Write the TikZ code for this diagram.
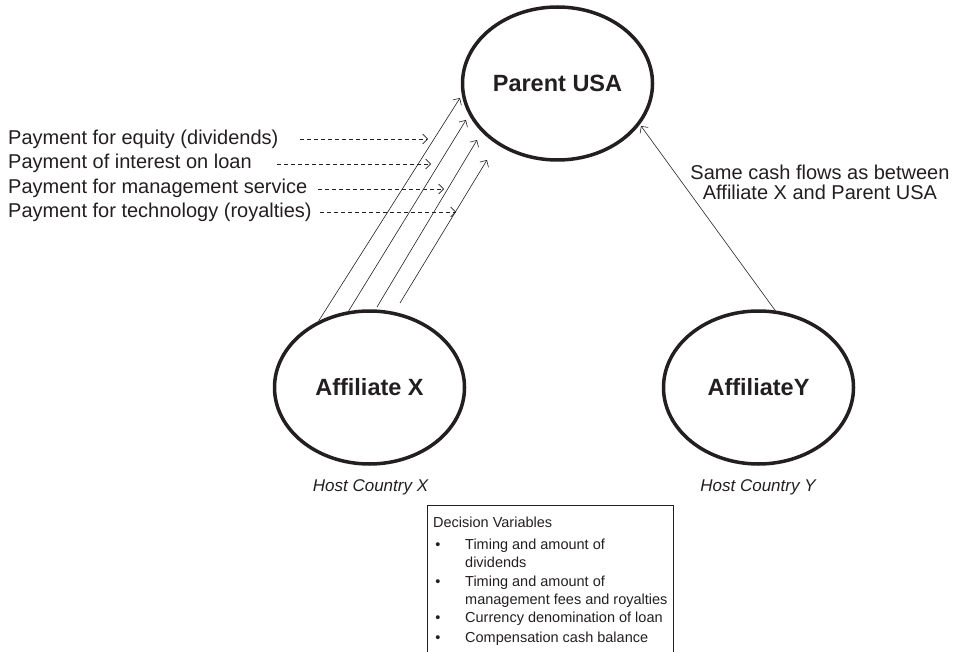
\documentclass[tikz,border=0pt]{standalone}
\usepackage{fontspec}
\setmainfont{Liberation Sans}
\usetikzlibrary{shapes.geometric,arrows.meta}
\definecolor{ink}{RGB}{35,31,32}
\begin{document}
\begin{tikzpicture}[x=1pt,y=-1pt,
  entity/.style={ellipse,draw=ink,line width=3.5pt,minimum width=190pt,
    minimum height=153pt,inner sep=0pt,text=ink,
    font=\fontsize{23.5}{28}\selectfont\bfseries},
  flow/.style={draw=ink,line width=0.6pt,-{Straight Barb[length=5pt,width=10pt]}},
  dashflow/.style={flow,dash pattern=on 4pt off 3pt},
  paytext/.style={anchor=base west,inner sep=0pt,text=ink,font=\fontsize{20}{23}\selectfont},
  notetext/.style={anchor=base,inner sep=0pt,text=ink,font=\fontsize{20}{23}\selectfont},
  hosttext/.style={anchor=base,inner sep=0pt,text=ink,font=\fontsize{17}{20}\selectfont\itshape},
  boxtext/.style={anchor=base west,inner sep=0pt,text=ink,font=\fontsize{14.5}{17}\selectfont},
  bullet/.style={anchor=base,inner sep=0pt,text=ink,font=\fontsize{14.5}{17}\selectfont}
]
\useasboundingbox (0,0) rectangle (955,652);

% the three companies
\node[entity] (P)  at (557.5,83.5)  {Parent USA};
\node[entity] (AX) at (369.5,387.5) {Affiliate X};
\node[entity] (AY) at (758.5,387.5) {AffiliateY};

\node[hosttext] (hx) at (370.5,491) {Host Country X};
\node[hosttext] (hy) at (758,491) {Host Country Y};

% cash flows from Affiliate X to the parent
\coordinate (s1) at (318,322); \coordinate (t1) at (460,98);
\coordinate (s2) at (348,312); \coordinate (t2) at (466,120);
\coordinate (s3) at (377,307); \coordinate (t3) at (477,140);
\coordinate (s4) at (400,303); \coordinate (t4) at (487,160);
\draw[flow] (s1) -- (t1);
\draw[flow] (s2) -- (t2);
\draw[flow] (s3) -- (t3);
\draw[flow] (s4) -- (t4);

% labels of the individual payments
\node[paytext] (l1) at (8,145) {Payment for equity (dividends)};
\node[paytext] (l2) at (8,169) {Payment of interest on loan};
\node[paytext] (l3) at (8,194) {Payment for management service};
\node[paytext] (l4) at (8,218) {Payment for technology (royalties)};

\coordinate (d1s) at (300,139); \coordinate (d1e) at (428,139);
\coordinate (d2s) at (277,164); \coordinate (d2e) at (431,164);
\coordinate (d3s) at (318,189); \coordinate (d3e) at (444,189);
\coordinate (d4s) at (320,212); \coordinate (d4e) at (456,212);
\draw[dashflow] (d1s) -- (d1e);
\draw[dashflow] (d2s) -- (d2e);
\draw[dashflow] (d3s) -- (d3e);
\draw[dashflow] (d4s) -- (d4e);

% Affiliate Y to the parent
\coordinate (sy) at (777,313); \coordinate (ty) at (641,126);
\draw[flow] (sy) -- (ty);
\node[notetext] (same1) at (820,180) {Same cash flows as between};
\node[notetext] (same2) at (820,200) {Affiliate X and Parent USA};

% decision variables box
\draw[ink,line width=0.7pt] (427,652) -- (427,505) -- (673,505) -- (673,652);
\node[boxtext] (dv) at (433,527) {Decision Variables};
\node[bullet] (b1) at (438,549) {\textbullet};
\node[boxtext] (i1a) at (465,549) {Timing and amount of};
\node[boxtext] (i1b) at (465,567) {dividends};
\node[bullet] (b2) at (438,586) {\textbullet};
\node[boxtext] (i2a) at (465,586) {Timing and amount of};
\node[boxtext] (i2b) at (465,604) {management fees and royalties};
\node[bullet] (b3) at (438,622) {\textbullet};
\node[boxtext] (i3) at (465,622) {Currency denomination of loan};
\node[bullet] (b4) at (438,642) {\textbullet};
\node[boxtext] (i4) at (465,642) {Compensation cash balance};
\end{tikzpicture}
\end{document}
